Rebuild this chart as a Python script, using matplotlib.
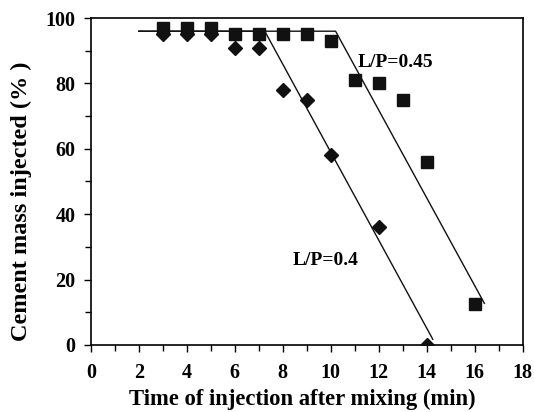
import numpy as np
import matplotlib.pyplot as plt
from matplotlib.ticker import MultipleLocator

plt.rcParams['font.family'] = ['Liberation Serif', 'DejaVu Serif']
plt.rcParams['font.weight'] = 'bold'

# measured points
t_04 = [3, 4, 5, 6, 7, 8, 9, 10, 12, 14]
m_04 = [95, 95, 95, 91, 91, 78, 75, 58, 36, 0]
t_045 = [3, 4, 5, 6, 7, 8, 9, 10, 11, 12, 13, 14, 16]
m_045 = [97, 97, 97, 95, 95, 95, 95, 93, 81, 80, 75, 56, 12.5]

# fitted trend lines (plateau then linear drop)
fit_t_04 = [2, 7.25, 14.25]
fit_m_04 = [96, 96, 1.7]
fit_t_045 = [2, 10.2, 16.4]
fit_m_045 = [96, 96, 12.7]

fig = plt.figure(figsize=(5.34, 4.12), dpi=100)
ax = fig.add_axes([0.170, 0.163, 0.809, 0.793])

ax.plot(fit_t_04, fit_m_04, color='#111111', lw=1)
ax.plot(fit_t_045, fit_m_045, color='#111111', lw=1)
ax.plot(t_045, m_045, 's', color='#111111', ms=9, zorder=3)
ax.plot(t_04, m_04, 'D', color='#111111', ms=7.5, zorder=4)

ax.text(11.1, 86.5, 'L/P=0.45', fontsize=14, fontweight='bold', va='center')
ax.text(8.4, 25.7, 'L/P=0.4', fontsize=14, fontweight='bold', va='center')

ax.set_xlim(0, 18)
ax.set_ylim(0, 100)
ax.xaxis.set_major_locator(MultipleLocator(2))
ax.xaxis.set_minor_locator(MultipleLocator(1))
ax.yaxis.set_major_locator(MultipleLocator(20))
ax.yaxis.set_minor_locator(MultipleLocator(10))
ax.tick_params(which='both', direction='out', width=1, labelsize=14.5)
ax.tick_params(which='major', length=5)
ax.tick_params(which='minor', length=4)
ax.tick_params(axis='x', which='major', pad=8)
ax.tick_params(axis='y', which='major', pad=6)
for s in ax.spines.values():
    s.set_linewidth(1.2)

ax.set_xlabel('Time of injection after mixing (min)', fontsize=16.3, fontweight='bold')
ax.xaxis.set_label_coords(0.49, -0.135)
ax.set_ylabel('Cement mass injected (% )', fontsize=17.5, fontweight='bold')
ax.yaxis.set_label_coords(-0.135, 0.44)

fig.savefig('out.png', dpi=100)
